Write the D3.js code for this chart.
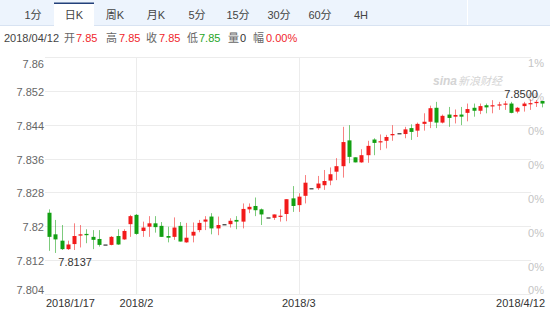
<!DOCTYPE html>
<html>
<head>
<meta charset="utf-8">
<script src="https://cdn.jsdelivr.net/npm/d3@7/dist/d3.min.js"></script>
<style>
  body { margin: 0; background: #fff; }
  svg text { font-family: "Liberation Sans", Arial, "Noto Sans CJK SC", sans-serif; }
</style>
</head>
<body>
<div class="canvas"></div>
<script>
// ---- data ----
const tabs = ["1分", "日K", "周K", "月K", "5分", "15分", "30分", "60分", "4H"];
const selectedTab = "日K";

const infoDate = "2018/04/12";
const infoLabels = ["开", "高", "收", "低", "量", "幅"];
const infoValues = ["7.85", "7.85", "7.85", "7.85", "0", "0.00%"];
const infoColors = ["#f0262b", "#f0262b", "#f0262b", "#1fa51f", "#333", "#f0262b"];

const yTicks = [7.804, 7.812, 7.82, 7.828, 7.836, 7.844, 7.852, 7.86];
const yTickLabels = ["7.804", "7.812", "7.82", "7.828", "7.836", "7.844", "7.852", "7.86"];
const pctLabels = ["0%", "0%", "0%", "0%", "0%", "0%", "0%", "1%"];

const xTickIndex = [0, 14, 40, 79];
const xTickLabels = ["2018/1/17", "2018/2", "2018/3", "2018/4/12"];

const open = [7.8232, 7.8181, 7.8166, 7.8146, 7.8158, 7.8178, 7.8182, 7.8175, 7.8170, 7.8157,
  7.8156, 7.8177, 7.8169, 7.8205, 7.8227, 7.8189, 7.8199, 7.8207, 7.8201, 7.8177,
  7.8175, 7.8201, 7.8162, 7.8178, 7.8191, 7.8211, 7.8223, 7.8195, 7.8205, 7.8205,
  7.8215, 7.8211, 7.8240, 7.8248, 7.8240, 7.8221, 7.8220, 7.8223, 7.8229, 7.8266,
  7.8250, 7.8272, 7.8290, 7.8290, 7.8297, 7.8308, 7.8329, 7.8342, 7.8403, 7.8363,
  7.8351, 7.8368, 7.8405, 7.8399, 7.8402, 7.8415, 7.8420, 7.8418, 7.8432, 7.8426,
  7.8442, 7.8447, 7.8480, 7.8445, 7.8464, 7.8459, 7.8464, 7.8468, 7.8480, 7.8473,
  7.8486, 7.8484, 7.8486, 7.8488, 7.8490, 7.8471, 7.8484, 7.8490, 7.8491, 7.8496];

const close = [7.8175, 7.8169, 7.8146, 7.8157, 7.8177, 7.8181, 7.8179, 7.8168, 7.8156, 7.8157,
  7.8175, 7.8157, 7.8189, 7.8224, 7.8182, 7.8197, 7.8207, 7.8198, 7.8175, 7.8173,
  7.8197, 7.8164, 7.8173, 7.8187, 7.8208, 7.8216, 7.8195, 7.8203, 7.8205, 7.8213,
  7.8211, 7.8241, 7.8246, 7.8238, 7.8228, 7.8221, 7.8228, 7.8225, 7.8264, 7.8248,
  7.8270, 7.8303, 7.8290, 7.8301, 7.8307, 7.8323, 7.8342, 7.8399, 7.8364, 7.8351,
  7.8368, 7.8390, 7.8397, 7.8401, 7.8411, 7.8418, 7.8420, 7.8429, 7.8423, 7.8442,
  7.8447, 7.8479, 7.8445, 7.8461, 7.8456, 7.8463, 7.8459, 7.8477, 7.8473, 7.8484,
  7.8481, 7.8486, 7.8488, 7.8490, 7.8468, 7.8480, 7.8490, 7.8491, 7.8494, 7.8490];

const high = [7.8240, 7.8215, 7.8203, 7.8166, 7.8207, 7.8203, 7.8193, 7.8191, 7.8191, 7.8157,
  7.8177, 7.8193, 7.8193, 7.8227, 7.8229, 7.8211, 7.8224, 7.8224, 7.8210, 7.8199,
  7.8221, 7.8210, 7.8208, 7.8209, 7.8215, 7.8224, 7.8231, 7.8223, 7.8205, 7.8219,
  7.8224, 7.8254, 7.8254, 7.8268, 7.8242, 7.8221, 7.8228, 7.8240, 7.8264, 7.8295,
  7.8278, 7.8321, 7.8290, 7.8319, 7.8333, 7.8339, 7.8361, 7.8435, 7.8439, 7.8363,
  7.8382, 7.8402, 7.8408, 7.8417, 7.8416, 7.8439, 7.8420, 7.8435, 7.8441, 7.8445,
  7.8467, 7.8485, 7.8494, 7.8464, 7.8482, 7.8476, 7.8482, 7.8490, 7.8490, 7.8490,
  7.8490, 7.8498, 7.8494, 7.8496, 7.8494, 7.8482, 7.8494, 7.8500, 7.8498, 7.8496];

const low = [7.8142, 7.8137, 7.8144, 7.8144, 7.8144, 7.8150, 7.8160, 7.8146, 7.8152, 7.8157,
  7.8155, 7.8156, 7.8168, 7.8175, 7.8180, 7.8175, 7.8175, 7.8185, 7.8175, 7.8162,
  7.8168, 7.8164, 7.8161, 7.8162, 7.8186, 7.8191, 7.8181, 7.8179, 7.8205, 7.8197,
  7.8193, 7.8195, 7.8231, 7.8224, 7.8203, 7.8221, 7.8215, 7.8211, 7.8212, 7.8234,
  7.8234, 7.8254, 7.8290, 7.8286, 7.8286, 7.8297, 7.8309, 7.8315, 7.8349, 7.8351,
  7.8350, 7.8350, 7.8368, 7.8380, 7.8384, 7.8402, 7.8420, 7.8408, 7.8404, 7.8411,
  7.8426, 7.8432, 7.8432, 7.8443, 7.8435, 7.8443, 7.8439, 7.8448, 7.8459, 7.8465,
  7.8467, 7.8467, 7.8475, 7.8475, 7.8467, 7.8467, 7.8471, 7.8475, 7.8482, 7.8481];

(function () {
  const width = 550, height = 310;
  const UP = "#f21a1a", DOWN = "#12a012", FLAT = "#333";
  const GRID = "#ececec";
  const PLOT_TOP = 57, PLOT_BOTTOM = 294, GRID_LEFT = 45, GRID_RIGHT = 531;

  const svg = d3.select(".canvas").append("svg")
    .attr("width", width)
    .attr("height", height);

  // ---- tab bar ----
  svg.append("rect").attr("x", 0).attr("y", 0).attr("width", width).attr("height", 25).attr("fill", "#edf4fd");
  svg.append("line").attr("x1", 0).attr("x2", width).attr("y1", 25.5).attr("y2", 25.5).attr("stroke", "#d8e3f2");
  svg.append("line").attr("x1", 467.5).attr("x2", 467.5).attr("y1", 0).attr("y2", 25).attr("stroke", "#fff");

  const tabX = d3.scalePoint().domain(tabs).range([33, 361]);
  const sel = svg.append("g");
  sel.append("rect").attr("x", tabX(selectedTab) - 20).attr("y", 3).attr("width", 40).attr("height", 23).attr("fill", "#fff");
  sel.append("rect").attr("x", tabX(selectedTab) - 20).attr("y", 2.5).attr("width", 40).attr("height", 1.5).attr("fill", "#23407a");

  svg.append("g").selectAll("text").data(tabs).join("text")
    .attr("x", d => tabX(d))
    .attr("y", 19)
    .attr("text-anchor", "middle")
    .attr("font-size", 11)
    .attr("fill", "#444")
    .text(d => d);

  // ---- info line ----
  const info = svg.append("g").attr("font-size", 11);
  info.append("text").attr("x", 4).attr("y", 41.5).attr("fill", "#444").text(infoDate);
  const infoX = [64, 106, 146, 187, 228, 253];
  const valueX = [76, 119, 159, 199, 240, 266];
  infoLabels.forEach((lab, i) => {
    info.append("text").attr("x", infoX[i]).attr("y", 41.5).attr("fill", "#666").text(lab);
    info.append("text").attr("x", valueX[i]).attr("y", 41.5).attr("fill", infoColors[i]).text(infoValues[i]);
  });

  // ---- scales ----
  const idx = d3.range(open.length);
  const x = d3.scaleBand().domain(idx).range([45.9, 545.5]).padding(0);
  const cx = i => x(i) + x.bandwidth() / 2;
  const bodyW = 4;
  const y = d3.scaleLinear().domain([7.804, 7.86]).range([PLOT_BOTTOM, PLOT_TOP]);

  // ---- grid ----
  const grid = svg.append("g");
  grid.selectAll("line.h").data(yTicks).join("line")
    .attr("class", "h")
    .attr("x1", GRID_LEFT).attr("x2", GRID_RIGHT)
    .attr("y1", d => Math.round(y(d)) + 0.5).attr("y2", d => Math.round(y(d)) + 0.5)
    .attr("stroke", GRID);
  grid.selectAll("line.v").data(xTickIndex.slice(1, -1)).join("line")
    .attr("class", "v")
    .attr("x1", d => Math.round(cx(d)) + 0.5).attr("x2", d => Math.round(cx(d)) + 0.5)
    .attr("y1", PLOT_TOP).attr("y2", PLOT_BOTTOM)
    .attr("stroke", GRID);

  // ---- watermark ----
  const wm = svg.append("g").attr("fill", "#d4d4d4");
  wm.append("text").attr("x", 433).attr("y", 85).attr("font-size", 12).attr("font-style", "italic").attr("font-weight", "bold").text("sina");
  wm.append("text").attr("x", 458).attr("y", 85).attr("font-size", 11).attr("font-style", "italic").text("新浪财经");

  // ---- left / right axis labels ----
  const last = yTicks.length - 1;
  const leftY = (d, i) => i === last ? y(d) + 11 : i === 0 ? y(d) - 0.5 : y(d) + 5;
  svg.append("g").selectAll("text").data(yTicks).join("text")
    .attr("x", 44)
    .attr("y", leftY)
    .attr("text-anchor", "end")
    .attr("font-size", 11)
    .attr("fill", "#666")
    .text((d, i) => yTickLabels[i]);

  const rightY = (d, i) => i === last ? y(d) + 10 : i === 0 ? y(d) - 0.5 : y(d) + 10.5;
  svg.append("g").selectAll("text").data(yTicks).join("text")
    .attr("x", 544)
    .attr("y", rightY)
    .attr("text-anchor", "end")
    .attr("font-size", 11)
    .attr("fill", "#c4c4c4")
    .text((d, i) => pctLabels[i]);

  // ---- x labels ----
  svg.append("g").selectAll("text").data(xTickIndex).join("text")
    .attr("x", (d, i) => i === 0 ? 46 : i === xTickIndex.length - 1 ? 545 : cx(d))
    .attr("y", 306.5)
    .attr("text-anchor", (d, i) => i === 0 ? "start" : i === xTickIndex.length - 1 ? "end" : "middle")
    .attr("font-size", 11)
    .attr("fill", "#333")
    .text((d, i) => xTickLabels[i]);

  // ---- candles ----
  const colorOf = i => close[i] > open[i] ? UP : close[i] < open[i] ? DOWN : FLAT;
  const candles = svg.append("g").selectAll("g").data(idx).join("g");

  candles.filter(i => open[i] !== close[i]).append("line")
    .attr("x1", i => Math.round(cx(i)) + 0.5).attr("x2", i => Math.round(cx(i)) + 0.5)
    .attr("y1", i => y(high[i])).attr("y2", i => y(low[i]))
    .attr("stroke", colorOf)
    .attr("stroke-opacity", 0.55)
    .attr("stroke-width", 1);

  candles.append("rect")
    .attr("x", i => Math.round(cx(i)) + 0.5 - bodyW / 2)
    .attr("y", i => y(Math.max(open[i], close[i])))
    .attr("width", bodyW)
    .attr("height", i => Math.max(1.2, Math.abs(y(open[i]) - y(close[i]))))
    .attr("fill", colorOf);

  // ---- min / max annotations ----
  const iMin = d3.minIndex(low), iMax = d3.maxIndex(high);
  svg.append("text")
    .attr("x", cx(iMin) + 3).attr("y", y(low[iMin]) + 13)
    .attr("font-size", 11).attr("fill", "#333")
    .text(low[iMin].toFixed(4));
  svg.append("text")
    .attr("x", cx(iMax) + 8).attr("y", y(high[iMax]) - 1.5)
    .attr("text-anchor", "end")
    .attr("font-size", 11).attr("fill", "#333")
    .text(high[iMax].toFixed(4));
})();
</script>
</body>
</html>
